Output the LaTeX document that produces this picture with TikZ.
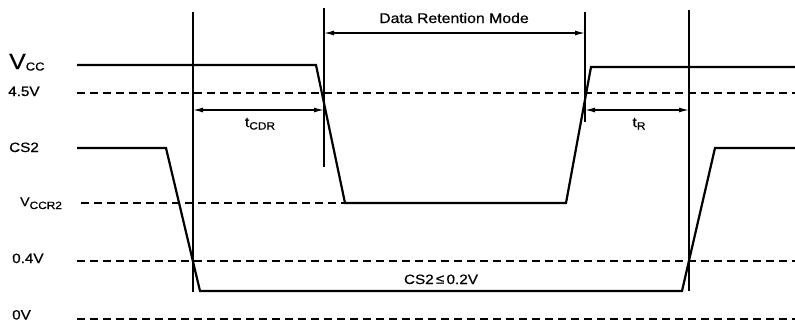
\documentclass[tikz,border=0pt]{standalone}
\usepackage{fontspec}
\setmainfont{Liberation Sans}[FakeStretch=1.13,FakeBold=0.6]
\usetikzlibrary{arrows.meta}
\newcommand{\fs}[1]{\fontsize{#1}{#1}\selectfont}
\begin{document}
\begin{tikzpicture}[x=1pt,y=-1pt,
  signal/.style={line width=2.2pt, line join=miter},
  level/.style={line width=1.1pt, dash pattern=on 8pt off 5pt},
  marker/.style={line width=1.5pt},
  span/.style={line width=1.3pt, {Latex[length=10pt,width=5pt]}-{Latex[length=10pt,width=5pt]}},
  lbl/.style={font=\fs{13.5}, inner sep=0pt, anchor=base west},
]
\useasboundingbox (0,0) rectangle (795,322);

% timing markers
\coordinate (m1t) at (193,12);  \coordinate (m1b) at (193,292);
\coordinate (m2t) at (324,8);   \coordinate (m2b) at (324,167);
\coordinate (m3t) at (585,12);  \coordinate (m3b) at (585,122);
\coordinate (m4t) at (689,10);  \coordinate (m4b) at (689,291);
\draw[marker] (m1t) -- (m1b);
\draw[marker] (m2t) -- (m2b);
\draw[marker] (m3t) -- (m3b);
\draw[marker] (m4t) -- (m4b);

% reference levels
\draw[level] (77,93) -- (795,93);
\draw[level] (81,203) -- (345,203);
\draw[level] (77,261) -- (795,261);
\draw[level] (77,319) -- (795,319);

% Vcc waveform
\draw[signal] (77,65) -- (316,65) -- (345,203) -- (566,203) -- (591,67) -- (795,67);
% CS2 waveform
\draw[signal] (77,148) -- (166,148) -- (200,291) -- (682,291) -- (715,148) -- (795,148);

% interval arrows
\coordinate (drL) at (324,33);  \coordinate (drR) at (585,33);
\coordinate (cdrL) at (193,110); \coordinate (cdrR) at (324,110);
\coordinate (rL) at (585,110);  \coordinate (rR) at (689,110);
\draw[span] (drL) -- (drR);
\draw[span] (cdrL) -- (cdrR);
\draw[span] (rL) -- (rR);

% interval labels
\node[lbl, anchor=base, font=\fs{14}] (drlabel) at (454,23) {Data Retention Mode};
\node[lbl, anchor=base, font=\fs{14}] (tcdr) at (260,127) {t\raisebox{-2.5pt}{\fs{10.5}CDR}};
\node[lbl, anchor=base, font=\fs{14}] (tr) at (639,127) {t\raisebox{-2.5pt}{\fs{10.5}R}};
\node[lbl, anchor=base] (cslow) at (441,284) {CS2\,\raisebox{0.5pt}{≤}\,0.2V};

% level labels
\node[lbl] (vcc) at (9,69) {{\fs{22}V}\raisebox{-1.5pt}{\fs{11.5}CC}};
\node[lbl] (v45) at (8,96) {4.5V};
\node[lbl] (cs2) at (9,152) {CS2};
\node[lbl] (vccr2) at (20,206) {{\fs{12.5}V}\raisebox{-3pt}{\fs{10.5}CCR2}};
\node[lbl] (v04) at (12,263) {0.4V};
\node[lbl] (v0) at (12,319.5) {0V};
\end{tikzpicture}
\end{document}
